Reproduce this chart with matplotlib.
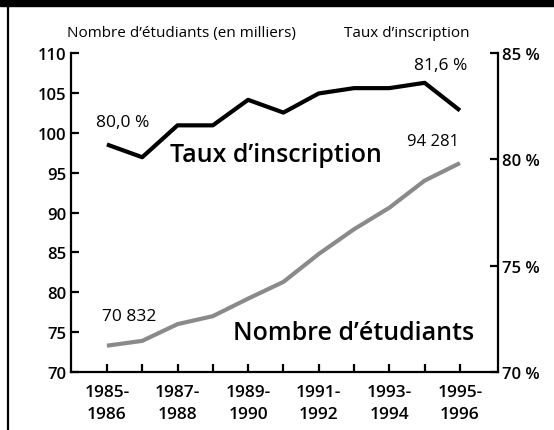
import numpy as np
import matplotlib.pyplot as plt
from matplotlib.patches import Rectangle
from matplotlib.lines import Line2D

plt.rcParams['font.family'] = ['Open Sans', 'DejaVu Sans']
plt.rcParams['font.weight'] = 'semibold'

# Data
periodes = ["1985-\n1986", "1986-\n1987", "1987-\n1988", "1988-\n1989", "1989-\n1990",
            "1990-\n1991", "1991-\n1992", "1992-\n1993", "1993-\n1994", "1994-\n1995",
            "1995-\n1996"]
etudiants = [73.3, 73.9, 76.0, 77.0, 79.2, 81.3, 84.8, 87.9, 90.6, 94.0, 96.2]  # milliers
taux = [80.7, 80.1, 81.6, 81.6, 82.8, 82.2, 83.1, 83.35, 83.35, 83.6, 82.3]     # %

left_ticks = [70, 75, 80, 85, 90, 95, 100, 105, 110]
right_ticks = [70, 75, 80, 85]

x = np.arange(len(periodes))

fig = plt.figure(figsize=(5.54, 4.31), dpi=100)
ax = fig.add_axes([0.128, 0.1346, 0.771, 0.740])
ax2 = ax.twinx()

# lines
ax.plot(x, etudiants, color="#8a8a8a", lw=3.0, solid_capstyle="butt")
ax2.plot(x, taux, color="black", lw=3.0, solid_capstyle="butt")

ax.set_xlim(-1.02, 11.08)
ax.set_ylim(70, 110)
ax2.set_ylim(70, 85)

ax.set_xticks(x)
ax.set_xticklabels([p if i % 2 == 0 else "" for i, p in enumerate(periodes)],
                   linespacing=1.45, fontsize=12.5)
ax.set_yticks(left_ticks)
ax2.set_yticks(right_ticks)
ax2.set_yticklabels([f"{t} %" for t in right_ticks])

for a in (ax, ax2):
    a.spines["top"].set_visible(False)
    for s in a.spines.values():
        s.set_linewidth(1.6)
    a.tick_params(direction="in", length=6, width=1.6, labelsize=12, pad=3)
ax.spines["right"].set_visible(False)
ax2.spines["left"].set_visible(False)
ax2.spines["bottom"].set_visible(False)
ax.tick_params(axis="x", pad=9, labelsize=12.5)

# value labels
ax2.annotate("80,0 %", (x[0], taux[0]), xytext=(11.5, 16), textcoords="offset points",
             ha="center", va="center", fontsize=12.5, fontweight="medium")
ax2.annotate("81,6 %", (x[9], taux[9]), xytext=(11.5, 13), textcoords="offset points",
             ha="center", va="center", fontsize=12.5, fontweight="medium")
ax.annotate("94 281", (x[10], etudiants[10]), xytext=(-19.5, 16), textcoords="offset points",
            ha="center", va="center", fontsize=12, fontweight="medium")
ax.annotate("70 832", (x[0], etudiants[0]), xytext=(16, 21.5), textcoords="offset points",
            ha="center", va="center", fontsize=12.5, fontweight="medium")

# series names
ax.text(4.79, 97.3, "Taux d\u2019inscription", ha="center", va="center", fontsize=18)
ax.text(7.0, 75.0, "Nombre d\u2019\u00e9tudiants", ha="center", va="center", fontsize=18)

# axis titles
fig.text(0.327, 0.923, "Nombre d\u2019\u00e9tudiants (en milliers)", ha="center", va="center",
         fontsize=11, fontweight="normal")
fig.text(0.734, 0.923, "Taux d\u2019inscription", ha="center", va="center",
         fontsize=11, fontweight="normal")

# frame
fig.patches.append(Rectangle((0, 1 - 7 / 431), 1, 7 / 431, transform=fig.transFigure,
                             color="black"))
fig.lines.append(Line2D([0.0144, 0.0144], [0, 1], transform=fig.transFigure,
                        color="black", lw=1.6))

fig.savefig("out.png", dpi=100)
